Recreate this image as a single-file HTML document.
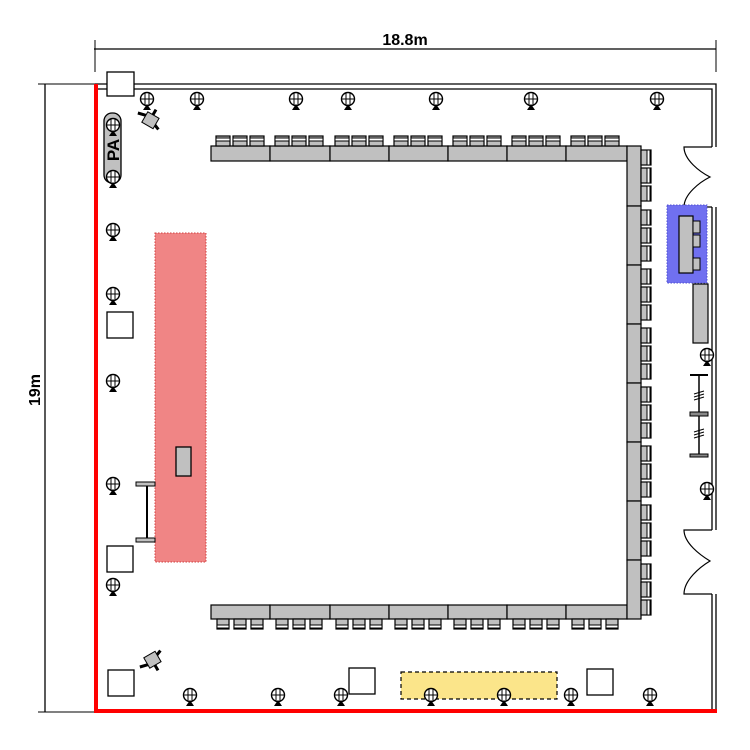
<!DOCTYPE html>
<html><head><meta charset="utf-8"><style>html,body{margin:0;padding:0;background:#fff}svg{display:block}</style></head>
<body>
<svg id="s" width="750" height="750" viewBox="0 0 750 750" xmlns="http://www.w3.org/2000/svg" font-family="Liberation Sans, sans-serif">
<defs>
<g id="mic"><circle cx="0" cy="0" r="6.5" fill="#fff" stroke="#000" stroke-width="1.4"/><line x1="-6" y1="0" x2="6" y2="0" stroke="#000"/><line x1="-2" y1="-6" x2="-2" y2="6" stroke="#000"/><line x1="2" y1="-6" x2="2" y2="6" stroke="#000"/><path d="M0 5 L-4 11 L4 11 Z" fill="#000"/></g>
<g id="sq"><rect width="26" height="26" fill="#fff" stroke="#000" stroke-width="1.3"/></g>
</defs>
<line x1="94" y1="49" x2="716" y2="49" stroke="#000" stroke-width="1.3"/>
<line x1="95" y1="40" x2="95" y2="72" stroke="#000"/>
<line x1="716" y1="40" x2="716" y2="72" stroke="#000"/>
<text x="405" y="45" font-size="16" font-weight="bold" text-anchor="middle">18.8m</text>
<line x1="45" y1="84" x2="45" y2="712" stroke="#000" stroke-width="1.3"/>
<line x1="38" y1="84" x2="95" y2="84" stroke="#000"/>
<line x1="38" y1="712" x2="95" y2="712" stroke="#000"/>
<text transform="translate(40,390) rotate(-90)" font-size="16" font-weight="bold" text-anchor="middle">19m</text>
<path d="M95 84 H716 V147" fill="none" stroke="#000" stroke-width="1.3"/>
<path d="M97 89 H712 V147" fill="none" stroke="#000" stroke-width="1.3"/>
<path d="M716 207 V530 M712 207 V530" stroke="#000" stroke-width="1.3"/>
<path d="M716 594 V711 M712 594 V711" stroke="#000" stroke-width="1.3"/>
<path d="M712 147 H684 C684 160 700 172 710 177 C700 182 684 194 684 207 H712" fill="none" stroke="#000" stroke-width="1.2"/>
<path d="M712 530 H684 C684 543 700 555 710 561 C700 567 684 580 684 594 H712" fill="none" stroke="#000" stroke-width="1.2"/>
<rect x="107" y="72" width="27" height="24" fill="#fff" stroke="#000" stroke-width="1.3"/>
<line x1="96" y1="84" x2="96" y2="712" stroke="#f00" stroke-width="4"/>
<line x1="94" y1="711" x2="717" y2="711" stroke="#f00" stroke-width="4"/>
<rect x="155" y="233" width="51" height="329" fill="#f08585" stroke="#d04040" stroke-width="1" stroke-dasharray="1.5 1.5"/>
<rect x="176" y="447" width="15" height="29" fill="#c0c0c0" stroke="#000" stroke-width="1.3"/>
<path d="M147 484 V540" stroke="#000" stroke-width="2"/>
<rect x="136" y="482" width="19" height="4" fill="#c0c0c0" stroke="#000"/>
<rect x="136" y="538" width="19" height="4" fill="#c0c0c0" stroke="#000"/>
<rect x="104" y="113" width="17" height="70" rx="8" fill="#c0c0c0" stroke="#000" stroke-width="1.3"/>
<rect x="401" y="672" width="156" height="27" fill="#fbe58a" stroke="#000" stroke-width="1.2" stroke-dasharray="4 3"/>
<rect x="667" y="205" width="40" height="78" fill="#7070f0" stroke="#5050d0" stroke-dasharray="1.5 1.5"/>
<rect x="679" y="216" width="14" height="57" fill="#c0c0c0" stroke="#000" stroke-width="1.2"/>
<rect x="693" y="221" width="7" height="12" fill="#c0c0c0" stroke="#000"/>
<rect x="693" y="235" width="7" height="12" fill="#c0c0c0" stroke="#000"/>
<rect x="693" y="258" width="7" height="12" fill="#c0c0c0" stroke="#000"/>
<rect x="693" y="284" width="15" height="59" fill="#c0c0c0" stroke="#000" stroke-width="1.2"/>
<path d="M699 375 V455" stroke="#000" stroke-width="1.5"/>
<rect x="690" y="374" width="18" height="2" fill="#000"/>
<rect x="690" y="454" width="18" height="3" fill="#888" stroke="#000"/>
<rect x="690" y="412" width="18" height="4" fill="#888" stroke="#000"/>
<path d="M694 394 l10 -3 M694 397 l10 -3 M694 400 l10 -3 M694 432 l10 -3 M694 435 l10 -3 M694 438 l10 -3" stroke="#000"/>
<use href="#sq" x="107" y="312"/><use href="#sq" x="107" y="546"/><use href="#sq" x="108" y="670"/><use href="#sq" x="349" y="668"/><use href="#sq" x="587" y="669"/>
<g transform="translate(150,120) rotate(30)"><rect x="-6" y="-6" width="13" height="12" fill="#c0c0c0" stroke="#000"/><path d="M-6 -2 L-14 0 M0 -6 L0 -12 M7 2 L12 4" stroke="#000" stroke-width="3"/></g>
<g transform="translate(152,660) rotate(-30)"><rect x="-6" y="-6" width="13" height="12" fill="#c0c0c0" stroke="#000"/><path d="M-6 2 L-14 0 M0 6 L0 12 M7 -2 L12 -4" stroke="#000" stroke-width="3"/></g>
<g id="tables"></g>
<g id="mics"></g>
<text transform="translate(119,150) rotate(-90)" font-size="17" font-weight="bold" text-anchor="middle">PA</text>
</svg>
<script>
var NS="http://www.w3.org/2000/svg";
var T=document.getElementById('tables');
function r(x,y,w,h,f,sw){var e=document.createElementNS(NS,'rect');e.setAttribute('x',x);e.setAttribute('y',y);e.setAttribute('width',w);e.setAttribute('height',h);e.setAttribute('fill',f);e.setAttribute('stroke','#000');e.setAttribute('stroke-width',sw||1.2);T.appendChild(e);}
var xs=[211,270,330,389,448,507,566,627];
for(var i=0;i<7;i++){var x=xs[i],w=xs[i+1]-xs[i];
 r(x,146,w,15,'#c0c0c0');r(x,605,w,14,'#c0c0c0');
 for(var j=0;j<3;j++){var cx=x+5+j*17;r(cx,136,14,10,'#c0c0c0',1.2);r(cx,138,14,3,'#fff',1);r(cx+1,619,12,10,'#c0c0c0',1.2);r(cx+1,625,12,3,'#fff',1);}}
var ys=[146,206,265,324,383,442,501,560,619];
for(var i=0;i<8;i++){var y=ys[i],h=ys[i+1]-ys[i];
 r(627,y,14,h,'#c0c0c0');
 for(var j=0;j<3;j++){var cy=y+4+j*18;if(cy+14>619)break;r(641,cy,10,15,'#c0c0c0',1.2);r(647,cy,3,15,'#fff',1);}}
var M=document.getElementById('mics');
var pts=[[147,99],[197,99],[296,99],[348,99],[436,99],[531,99],[657,99],[113,125],[113,177],[113,230],[113,294],[113,381],[113,484],[113,585],[190,695],[278,695],[341,695],[431,695],[504,695],[571,695],[650,695],[707,355],[707,489]];
pts.forEach(function(p){var u=document.createElementNS(NS,'use');u.setAttribute('href','#mic');u.setAttribute('x',p[0]);u.setAttribute('y',p[1]);M.appendChild(u);});
</script>
</body></html>
